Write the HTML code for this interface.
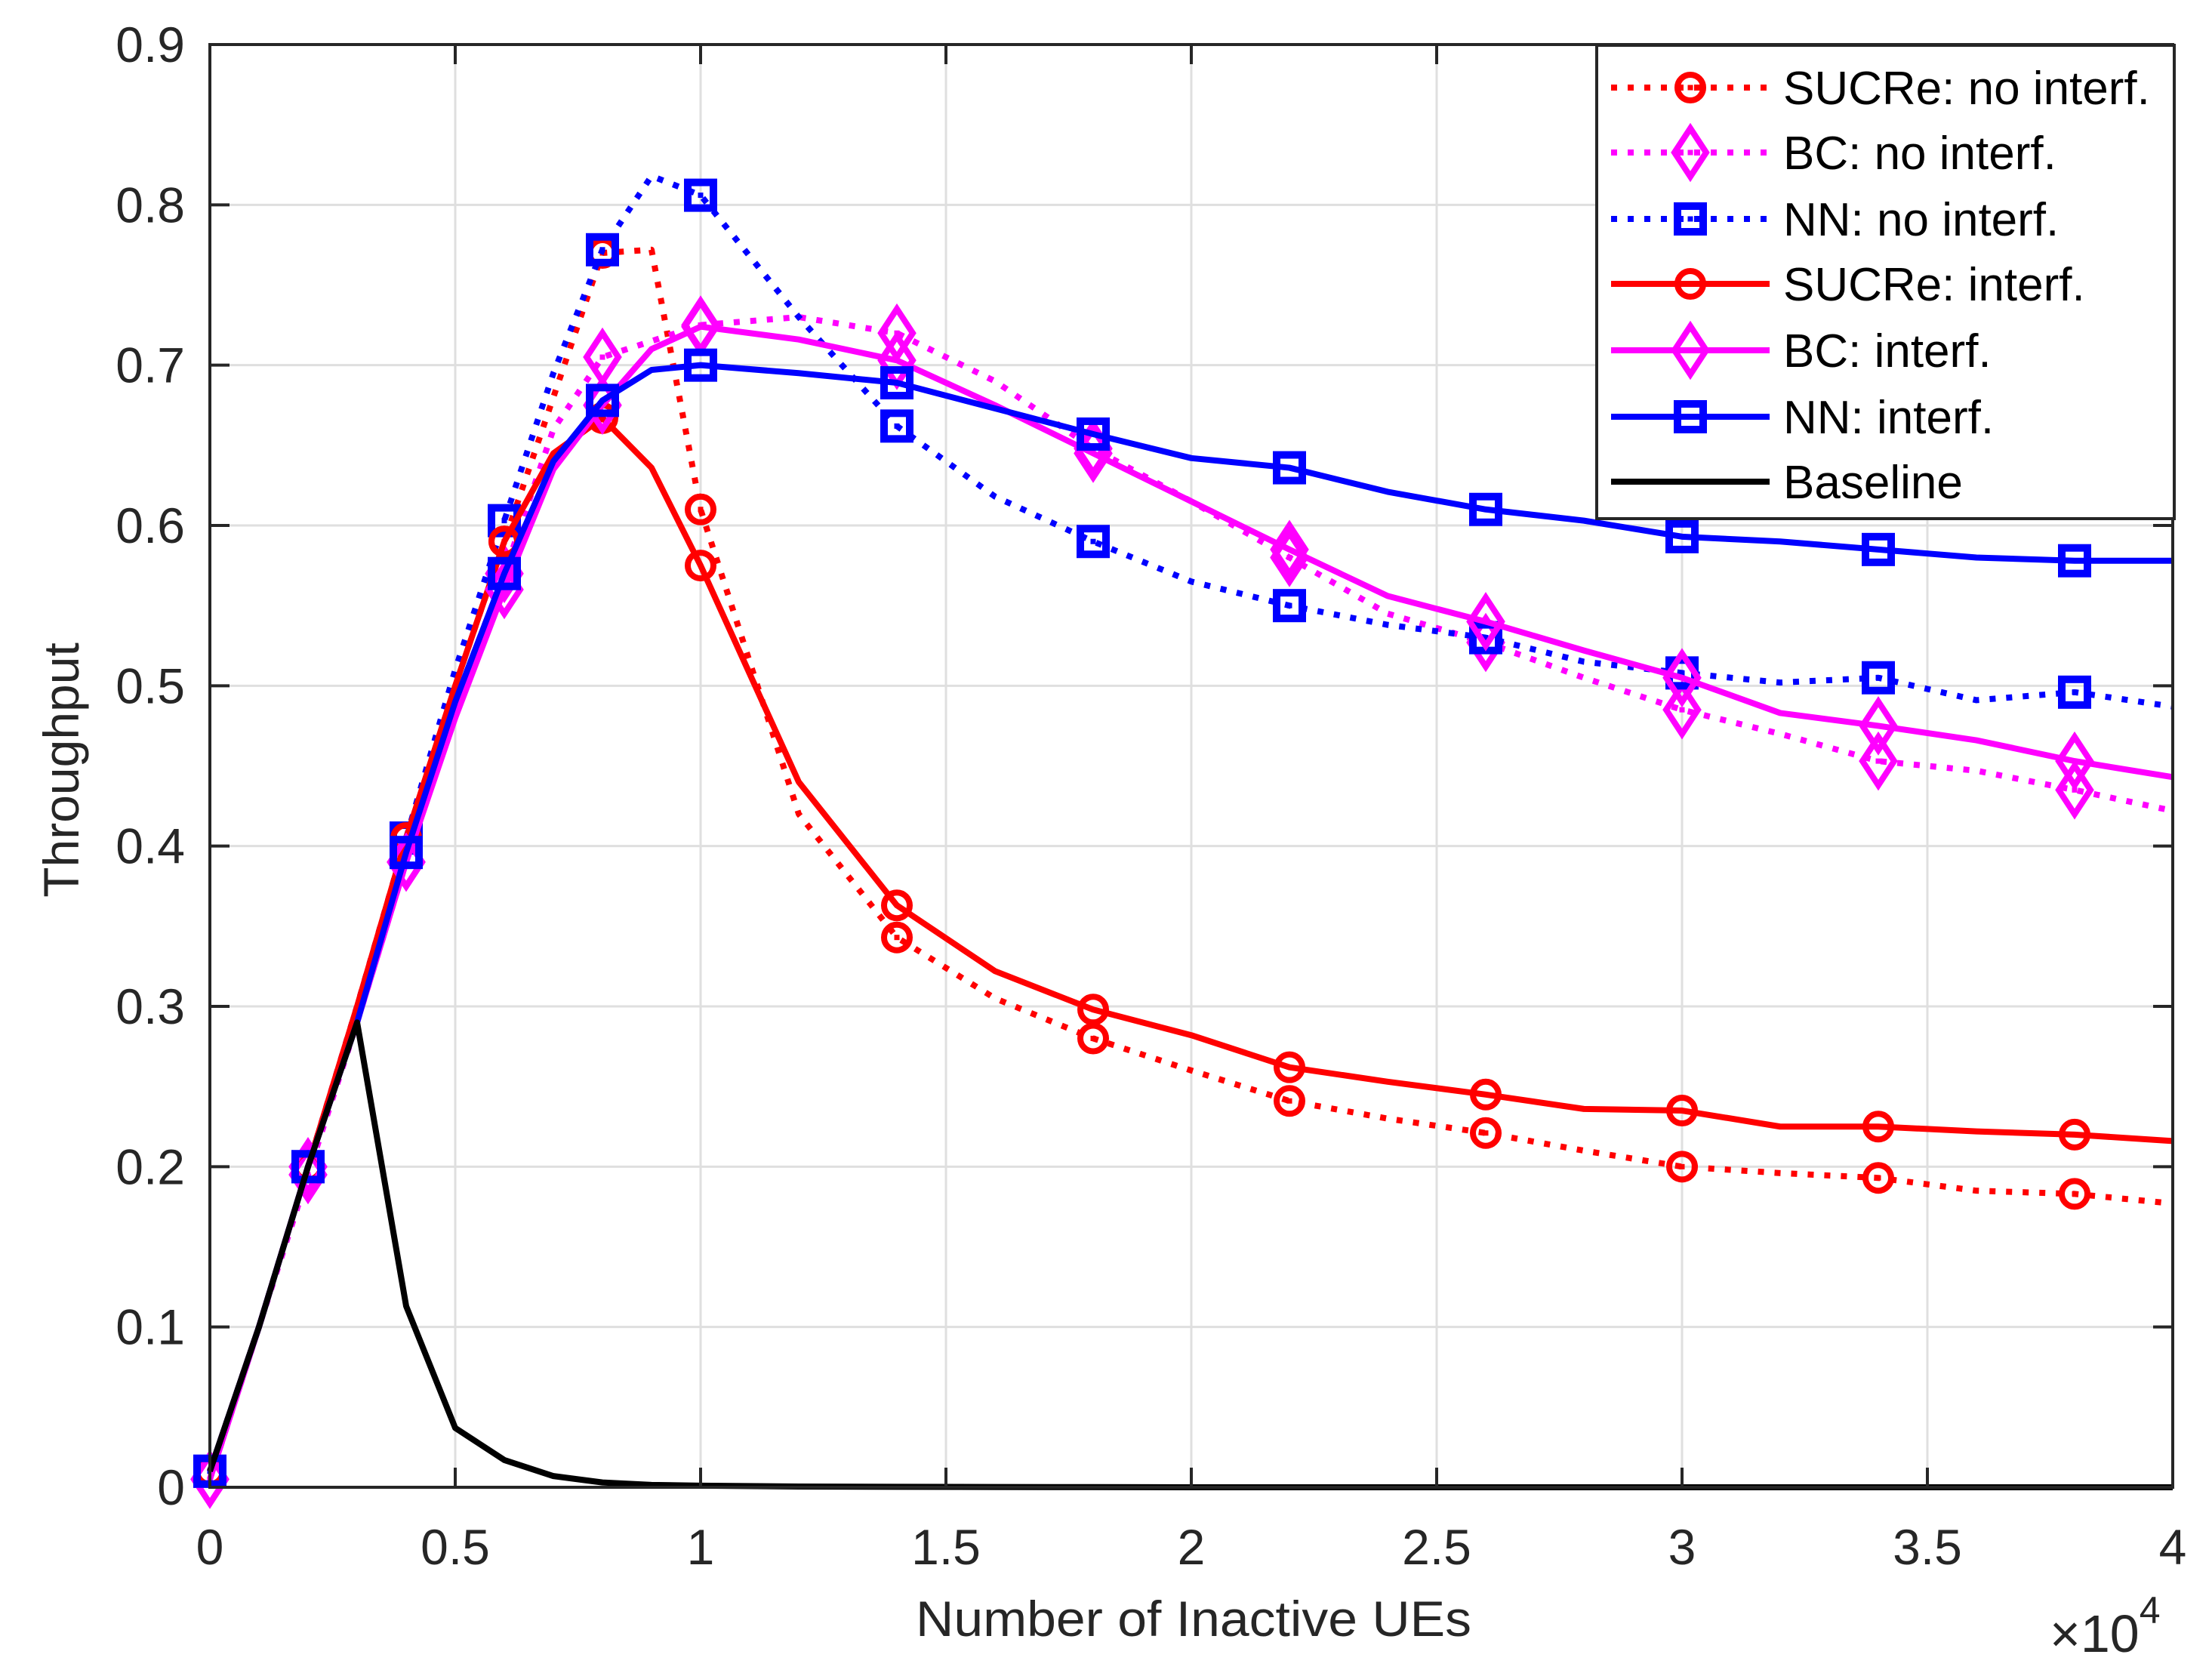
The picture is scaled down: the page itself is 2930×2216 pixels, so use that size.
<!DOCTYPE html>
<html><head><meta charset="utf-8"><style>
html,body{margin:0;padding:0;background:#fff;}
svg{display:block;font-family:"Liberation Sans",Arial,sans-serif;}
</style></head><body>
<svg id="chart" width="2930" height="2216" viewBox="0 0 2930 2216" xmlns="http://www.w3.org/2000/svg">
<rect width="2930" height="2216" fill="#fff"/>
<g id="grid"></g>
<g id="series"></g>
<g id="axes"></g>
<g id="legend"></g>
</svg>
<script>
var xVals = [0,1000,2000,3000,4000,5000,6000,7000,8000,9000,10000,12000,14000,16000,18000,20000,22000,24000,26000,28000,30000,32000,34000,36000,38000,40000];
var markerX = [0,2000,4000,6000,8000,10000,14000,18000,22000,26000,30000,34000,38000];
var sucreNo = [0.01,0.1,0.2,0.3,0.405,0.5,0.59,0.68,0.77,0.772,0.61,0.42,0.343,0.305,0.28,0.26,0.241,0.23,0.221,0.21,0.2,0.196,0.193,0.185,0.183,0.177];
var bcNo = [0.005,0.1,0.195,0.29,0.39,0.49,0.57,0.66,0.705,0.715,0.725,0.73,0.72,0.69,0.648,0.615,0.58,0.545,0.527,0.505,0.485,0.47,0.453,0.447,0.435,0.422];
var nnNo = [0.01,0.1,0.2,0.3,0.405,0.51,0.603,0.695,0.772,0.818,0.806,0.73,0.662,0.618,0.59,0.565,0.55,0.538,0.53,0.515,0.508,0.502,0.505,0.491,0.496,0.487];
var sucreIf = [0.01,0.1,0.2,0.3,0.405,0.5,0.59,0.645,0.667,0.636,0.575,0.44,0.363,0.322,0.298,0.282,0.262,0.253,0.245,0.236,0.235,0.225,0.225,0.222,0.22,0.216];
var bcIf = [0.005,0.1,0.2,0.29,0.39,0.48,0.56,0.635,0.675,0.71,0.724,0.716,0.703,0.675,0.645,0.615,0.585,0.556,0.54,0.522,0.505,0.483,0.475,0.466,0.453,0.443];
var nnIf = [0.01,0.1,0.2,0.29,0.396,0.49,0.57,0.64,0.678,0.697,0.7,0.695,0.689,0.673,0.657,0.642,0.636,0.621,0.61,0.603,0.593,0.59,0.585,0.58,0.578,0.578];
var baseline = [0.01,0.1,0.2,0.29,0.113,0.037,0.017,0.007,0.003,0.0015,0.001,0.0005,0.0003,0.0002,0.0001,0,0,0,0,0,0,0,0,0,0,0];
var xTicks = [0,5000,10000,15000,20000,25000,30000,35000,40000];
var xTickLabels = ["0","0.5","1","1.5","2","2.5","3","3.5","4"];
var yTicks = [0,0.1,0.2,0.3,0.4,0.5,0.6,0.7,0.8,0.9];
var yTickLabels = ["0","0.1","0.2","0.3","0.4","0.5","0.6","0.7","0.8","0.9"];
var seriesNames = ["SUCRe: no interf.","BC: no interf.","NN: no interf.","SUCRe: interf.","BC: interf.","NN: interf.","Baseline"];

var L=278,R=2878,T=59,B=1970;
function sx(v){return L+(v-0)/(40000)*(R-L);}
function sy(v){return B-(v/0.9)*(B-T);}
var NS="http://www.w3.org/2000/svg";
function mk(tag,attrs,parent){var e=document.createElementNS(NS,tag);for(var k in attrs)e.setAttribute(k,attrs[k]);parent.appendChild(e);return e;}

var grid=document.getElementById('grid'),axes=document.getElementById('axes'),ser=document.getElementById('series'),leg=document.getElementById('legend');
xTicks.forEach(function(t,i){
  var x=sx(t);
  if(i>0&&i<xTicks.length-1){var g=mk('line',{x1:x,x2:x,y1:T,y2:B,stroke:'#dfdfdf','stroke-width':3},grid);
  
  }
  mk('line',{x1:x,x2:x,y1:B,y2:B-26,stroke:'#262626','stroke-width':4},axes);
  mk('line',{x1:x,x2:x,y1:T,y2:T+26,stroke:'#262626','stroke-width':4},axes);
  var tx=mk('text',{x:x,y:2072,'font-size':66,'text-anchor':'middle',fill:'#262626'},axes);
  tx.textContent=xTickLabels[i];
  
  
});
yTicks.forEach(function(t,i){
  var y=sy(t);
  if(i>0&&i<yTicks.length-1){var g=mk('line',{x1:L,x2:R,y1:y,y2:y,stroke:'#dfdfdf','stroke-width':3},grid);
  
  }
  mk('line',{x1:L,x2:L+26,y1:y,y2:y,stroke:'#262626','stroke-width':4},axes);
  mk('line',{x1:R,x2:R-26,y1:y,y2:y,stroke:'#262626','stroke-width':4},axes);
  var tx=mk('text',{x:245,y:y+23,'font-size':66,'text-anchor':'end',fill:'#262626'},axes);
  tx.textContent=yTickLabels[i];
  
  
});
var fr=mk('rect',{x:L,y:T,width:R-L,height:B-T,fill:'none',stroke:'#262626','stroke-width':4},axes);


var xt=mk('text',{x:1581,y:2167,'font-size':66,'text-anchor':'middle',fill:'#262626',textLength:736,lengthAdjust:'spacingAndGlyphs'},axes);
xt.textContent='Number of Inactive UEs';


var yt=mk('text',{x:0,y:0,'font-size':66,'text-anchor':'middle',fill:'#262626',transform:'translate(104,1020) rotate(-90)'},axes);
yt.textContent='Throughput';


var ex=mk('text',{x:2715,y:2188,'font-size':70,fill:'#262626'},axes);
ex.innerHTML='×10<tspan dy="-38" font-size="50">4</tspan>';



function marker(type,x,y,color,dot,parent){
  var g=mk('g',{},parent);
  if(type==='o')mk('circle',{cx:x,cy:y,r:17,fill:'none',stroke:color,'stroke-width':8},g);
  else if(type==='d')mk('polygon',{points:(x)+','+(y-32)+' '+(x+21)+','+y+' '+x+','+(y+32)+' '+(x-21)+','+y,fill:'none',stroke:color,'stroke-width':8},g);
  else if(type==='s')mk('rect',{x:x-17,y:y-17,width:34,height:34,fill:'none',stroke:color,'stroke-width':10},g);
  if(dot)mk('rect',{x:x-3.5,y:y-3.5,width:7,height:7,fill:color},g);
  return g;
}
var defs=[
 {d:sucreNo,c:'#ff0000',m:'o',dot:true,name:'sucre-no-interf-series'},
 {d:bcNo,c:'#ff00ff',m:'d',dot:true,name:'bc-no-interf-series'},
 {d:nnNo,c:'#0000ff',m:'s',dot:true,name:'nn-no-interf-series'},
 {d:sucreIf,c:'#ff0000',m:'o',dot:false,name:'sucre-interf-series'},
 {d:bcIf,c:'#ff00ff',m:'d',dot:false,name:'bc-interf-series'},
 {d:nnIf,c:'#0000ff',m:'s',dot:false,name:'nn-interf-series'},
 {d:baseline,c:'#000000',m:null,dot:false,name:'baseline-series'}
];
defs.forEach(function(s){
  var g=mk('g',{},ser);
  
  
  var pts=xVals.map(function(x,i){return sx(x)+','+sy(s.d[i]);}).join(' ');
  var a={points:pts,fill:'none',stroke:s.c,'stroke-width':8,'stroke-linejoin':'round'};
  if(s.dot){a['stroke-dasharray']='8 14';}
  var pl=mk('polyline',a,g);
  
  
  if(s.m){xVals.forEach(function(x,i){if(markerX.indexOf(x)>=0){
    var mm=marker(s.m,sx(x),sy(s.d[i]),s.c,s.dot,g);
    
    
  }});}
});
var lb=mk('rect',{x:2115,y:60,width:765,height:627,fill:'#fff',stroke:'#262626','stroke-width':4},leg);


var ly=[116,202,290,376,464,552,638];
defs.forEach(function(s,i){
  var g=mk('g',{},leg);
  
  
  var a={x1:2134,x2:2344,y1:ly[i],y2:ly[i],stroke:s.c,'stroke-width':8};
  if(s.dot)a['stroke-dasharray']='8 14';
  mk('line',a,g);
  if(s.m)marker(s.m,2239,ly[i],s.c,s.dot,g);
  var t=mk('text',{x:2362,y:ly[i]+22,'font-size':62,fill:'#000'},g);
  t.textContent=seriesNames[i];
});
</script>
</body></html>
